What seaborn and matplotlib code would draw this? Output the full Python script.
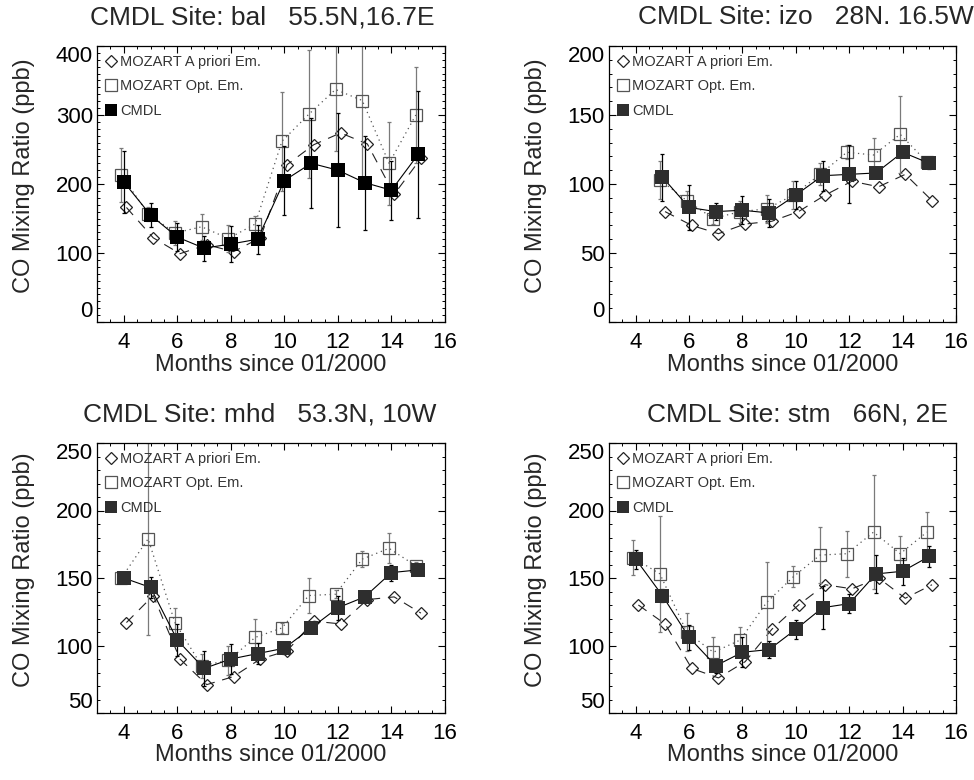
import numpy as np
import matplotlib
matplotlib.use("Agg")
import matplotlib.pyplot as plt
from matplotlib.lines import Line2D
from matplotlib.ticker import MultipleLocator
import seaborn as sns

# Data (CO mixing ratio, ppb)
months = [4, 5, 6, 7, 8, 9, 10, 11, 12, 13, 14, 15]
months_izo = [5, 6, 7, 8, 9, 10, 11, 12, 13, 14, 15]

bal_apriori = [166, 122, 99, 112, 102, 122, 228, 257, 274, 258, 185, 237]
bal_opt = [213, 157, 129, 138, 121, 142, 262, 301, 337, 321, 230, 300]
bal_opt_err = [39, 10, 17, 19, 20, 12, 72, 93, 89, 121, 60, 70]
bal_cmdl = [203, 155, 123, 107, 113, 120, 205, 230, 220, 202, 191, 243]
bal_cmdl_err = [45, 18, 20, 18, 26, 21, 50, 65, 83, 68, 43, 92]

izo_apriori = [80, 70, 64, 71, 73, 80, 92, 102, 98, 107, 88]
izo_opt = [103, 88, 75, 80, 82, 92, 107, 123, 121, 136, 116]
izo_opt_err = [14, 7, 4, 8, 10, 10, 8, 5, 12, 28, 2]
izo_cmdl = [105, 83, 80, 81, 79, 92, 106, 107, 108, 123, 115]
izo_cmdl_err = [17, 16, 6, 10, 10, 10, 11, 21, 3, 1, 4]

mhd_apriori = [117, 137, 90, 71, 77, 90, 96, 118, 116, 134, 136, 124]
mhd_opt = [150, 179, 117, 85, 89, 106, 113, 137, 138, 164, 172, 159]
mhd_opt_err = [1, 71, 11, 9, 11, 14, 4, 13, 3, 6, 11, 3]
mhd_cmdl = [150, 143, 104, 83, 90, 94, 98, 113, 128, 136, 154, 156]
mhd_cmdl_err = [1, 8, 12, 13, 11, 8, 4, 3, 9, 4, 6, 2]

stm_apriori = [130, 116, 83, 76, 88, 112, 130, 145, 142, 150, 135, 145]
stm_opt = [165, 153, 110, 95, 104, 132, 151, 167, 168, 184, 168, 184]
stm_opt_err = [13, 43, 14, 11, 10, 30, 8, 21, 17, 42, 13, 15]
stm_cmdl = [164, 137, 106, 85, 95, 97, 112, 128, 131, 153, 155, 166]
stm_cmdl_err = [7, 5, 9, 5, 11, 6, 7, 16, 7, 14, 10, 8]

legend_labels = ["MOZART A priori Em.", "MOZART Opt. Em.", "CMDL"]

sns.set_style("ticks")
plt.rcParams["font.family"] = ["Liberation Sans", "DejaVu Sans"]

OPT_DX = -0.09
APR_DX = 0.10
GREY = "#7a7a7a"


def draw_panel(ax, title, title_x, x, apriori, opt, opt_err, cmdl, cmdl_err,
               ylim, ystep, cmdl_color):
    x = np.asarray(x, dtype=float)
    # a priori: open diamonds, long dashes
    sns.lineplot(x=x + APR_DX, y=apriori, ax=ax, color="#222222", lw=0.8,
                 linestyle=(0, (9, 7)), marker="D", ms=6, mfc="none",
                 mec="#222222", mew=0.9)
    # optimised: open grey squares, dotted
    ax.errorbar(x + OPT_DX, opt, yerr=opt_err, fmt="none", ecolor=GREY,
                elinewidth=0.9, capsize=1.5, capthick=0.9)
    sns.lineplot(x=x + OPT_DX, y=opt, ax=ax, color="#555555", lw=0.9,
                 linestyle=(0, (1, 3)), marker="s", ms=9, mfc="none",
                 mec="#555555", mew=0.9)
    # CMDL observations: filled squares, solid
    ax.errorbar(x, cmdl, yerr=cmdl_err, fmt="none", ecolor="black",
                elinewidth=0.9, capsize=1.5, capthick=0.9)
    sns.lineplot(x=x, y=cmdl, ax=ax, color="black", lw=0.8, marker="s",
                 ms=9.5, mfc=cmdl_color, mec=cmdl_color, mew=0)

    ax.set_xlim(3, 16)
    ax.set_ylim(*ylim)
    ax.set_xticks(range(4, 17, 2))
    ax.set_yticks(np.arange(ylim[0], ylim[1] + 1, ystep))
    ax.xaxis.set_minor_locator(MultipleLocator(0.5))
    ax.yaxis.set_minor_locator(MultipleLocator(10))
    ax.tick_params(which="both", direction="in", top=True, right=True,
                   colors="black", labelsize=16)
    ax.tick_params(which="major", length=5, width=0.8)
    ax.tick_params(which="minor", length=2.5, width=0.7)
    ax.tick_params(axis="x", pad=7)
    ax.tick_params(axis="y", pad=3)
    for s in ax.spines.values():
        s.set_linewidth(0.9)
        s.set_color("black")

    # IDL style: end labels kept inside the axis range
    ylabels = ax.get_yticklabels()
    ylabels[0].set_va("bottom")
    ylabels[-1].set_va("top")

    ax.set_xlabel("Months since 01/2000", fontsize=17)
    ax.set_ylabel("CO Mixing Ratio (ppb)", fontsize=17)
    ax.xaxis.label.set_va("center")
    ax.yaxis.label.set_va("center")
    ax.xaxis.set_label_coords(0.5, -0.155)
    ax.yaxis.set_label_coords(-0.21, 0.53)

    ax.text(title_x, 1.105, title, transform=ax.transAxes, ha="center",
            va="center", fontsize=19)

    handles = [
        Line2D([], [], ls="none", marker="D", ms=6, mfc="none", mec="#222222", mew=0.9),
        Line2D([], [], ls="none", marker="s", ms=9, mfc="none", mec="#555555", mew=0.9),
        Line2D([], [], ls="none", marker="s", ms=9, mfc=cmdl_color, mec=cmdl_color, mew=0),
    ]
    leg = ax.legend(handles, legend_labels, loc="upper left", frameon=False,
                    fontsize=10.5, handlelength=0.7, handletextpad=0.3,
                    labelspacing=0.72, borderaxespad=0.3, borderpad=0.3)
    for t in leg.get_texts():
        t.set_color("#333333")


fig = plt.figure(figsize=(9.74, 7.8), dpi=100)
ax1 = fig.add_axes([97 / 974, 1 - 322 / 780, 348 / 974, 276 / 780])
ax2 = fig.add_axes([609 / 974, 1 - 322 / 780, 347 / 974, 276 / 780])
ax3 = fig.add_axes([97 / 974, 1 - 713 / 780, 348 / 974, 270 / 780])
ax4 = fig.add_axes([609 / 974, 1 - 713 / 780, 347 / 974, 270 / 780])

draw_panel(ax1, "CMDL Site: bal   55.5N,16.7E", 0.474, months, bal_apriori,
           bal_opt, bal_opt_err, bal_cmdl, bal_cmdl_err, (0, 400), 100, "black")
draw_panel(ax2, "CMDL Site: izo   28N. 16.5W", 0.568, months_izo, izo_apriori,
           izo_opt, izo_opt_err, izo_cmdl, izo_cmdl_err, (0, 200), 50, "#2e2e2e")
draw_panel(ax3, "CMDL Site: mhd   53.3N, 10W", 0.468, months, mhd_apriori,
           mhd_opt, mhd_opt_err, mhd_cmdl, mhd_cmdl_err, (50, 250), 50, "#2e2e2e")
draw_panel(ax4, "CMDL Site: stm   66N, 2E", 0.542, months, stm_apriori,
           stm_opt, stm_opt_err, stm_cmdl, stm_cmdl_err, (50, 250), 50, "#2e2e2e")

fig.savefig("out.png", dpi=100, facecolor="white")
